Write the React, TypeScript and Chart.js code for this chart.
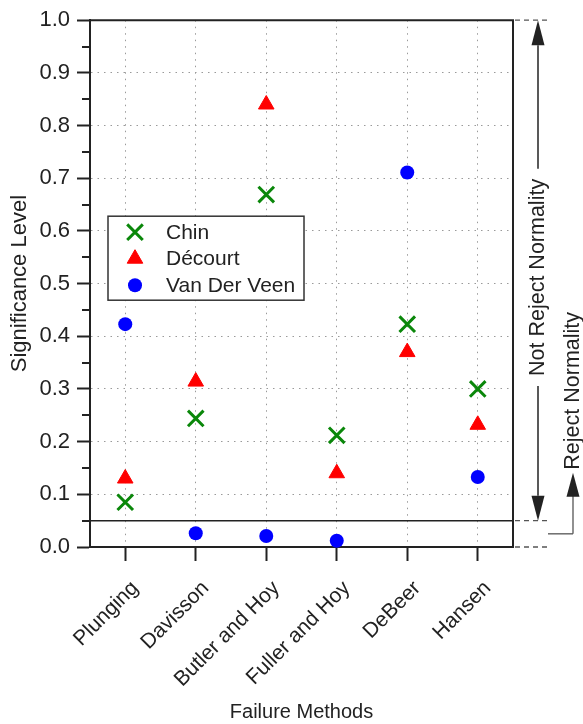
import React, { useEffect, useRef } from 'react';
import { Chart, registerables } from 'chart.js';

Chart.register(...registerables);

// ---- data ----
const categories = ['Plunging', 'Davisson', 'Butler and Hoy', 'Fuller and Hoy', 'DeBeer', 'Hansen'];
const seriesNames = ['Chin', 'Décourt', 'Van Der Veen'];
const chinValues = [0.085, 0.244, 0.669, 0.212, 0.423, 0.3];
const decourtValues = [0.13, 0.314, 0.84, 0.14, 0.37, 0.232];
const vanDerVeenValues = [0.423, 0.026, 0.021, 0.012, 0.711, 0.133];
const yMin = 0;
const yMax = 1;
const yStep = 0.1;
const threshold = 0.05;
const xTitle = 'Failure Methods';
const yTitle = 'Significance Level';
const upperNote = 'Not Reject Normality';
const lowerNote = 'Reject Normality';

const FONT = '"Liberation Sans", Arial, Helvetica, sans-serif';
const INK = '#222222';
const GREEN = '#0a870a';
const RED = '#ff0000';
const BLUE = '#0000ff';

function seg(ctx: CanvasRenderingContext2D, x1: number, y1: number, x2: number, y2: number) {
  ctx.beginPath();
  ctx.moveTo(x1, y1);
  ctx.lineTo(x2, y2);
  ctx.stroke();
}

function arrowHead(ctx: CanvasRenderingContext2D, x: number, tipY: number, dir: number, len: number, half: number) {
  // dir = -1 pointing up, +1 pointing down
  ctx.beginPath();
  ctx.moveTo(x, tipY);
  ctx.lineTo(x - half, tipY - dir * len);
  ctx.lineTo(x + half, tipY - dir * len);
  ctx.closePath();
  ctx.fill();
}

function marker(ctx: CanvasRenderingContext2D, kind: string, x: number, y: number, color: string) {
  ctx.save();
  ctx.fillStyle = color;
  ctx.strokeStyle = color;
  if (kind === 'crossRot') {
    const r = 11 * Math.SQRT1_2;
    ctx.lineWidth = 3;
    seg(ctx, x - r, y - r, x + r, y + r);
    seg(ctx, x - r, y + r, x + r, y - r);
  } else if (kind === 'triangle') {
    const r = 9;
    ctx.beginPath();
    for (let i = 0; i < 3; i++) {
      const a = (i * 2 * Math.PI) / 3;
      const px = x + Math.sin(a) * r;
      const py = y - Math.cos(a) * r;
      if (i === 0) ctx.moveTo(px, py);
      else ctx.lineTo(px, py);
    }
    ctx.closePath();
    ctx.fill();
    ctx.lineWidth = 1;
    ctx.stroke();
  } else {
    ctx.beginPath();
    ctx.arc(x, y, 7, 0, Math.PI * 2);
    ctx.fill();
  }
  ctx.restore();
}

const decorPlugin = {
  id: 'decor',
  afterDraw(chart: any) {
    const ctx: CanvasRenderingContext2D = chart.ctx;
    const a = chart.chartArea;
    const y = chart.scales.y;
    const yTop = y.getPixelForValue(yMax);
    const yTh = y.getPixelForValue(threshold);
    const y0 = y.getPixelForValue(yMin);
    ctx.save();
    ctx.strokeStyle = INK;
    ctx.fillStyle = INK;

    // minor ticks
    ctx.lineWidth = 2;
    for (let v = yMin + yStep / 2; v < yMax; v += yStep) {
      const py = Math.round(y.getPixelForValue(v));
      seg(ctx, a.left - 8, py, a.left, py);
    }
    // frame (top + right)
    ctx.lineWidth = 2;
    seg(ctx, a.left - 1, a.top, a.right + 1, a.top);
    seg(ctx, a.right, a.top, a.right, a.bottom);

    // threshold line
    ctx.lineWidth = 1.5;
    seg(ctx, a.left - 5, yTh, a.right, yTh);

    // dashed extensions on the right
    ctx.save();
    ctx.strokeStyle = '#555';
    ctx.lineWidth = 1.3;
    ctx.setLineDash([5, 4]);
    [yTop, yTh, y0].forEach((py) => seg(ctx, a.right + 2, py, a.right + 34, py));
    ctx.restore();

    ctx.font = `21.5px ${FONT}`;
    ctx.textAlign = 'center';
    ctx.textBaseline = 'middle';

    // main double arrow with text
    const ax = a.right + 25;
    const headLen = 25;
    const half = 6.5;
    arrowHead(ctx, ax, yTop, -1, headLen, half);
    arrowHead(ctx, ax, yTh, 1, headLen, half);
    const w1 = ctx.measureText(upperNote).width;
    const c1 = (yTop + yTh) / 2 + 7;
    ctx.lineWidth = 1.5;
    seg(ctx, ax, yTop + headLen, ax, c1 - w1 / 2 - 10);
    seg(ctx, ax, c1 + w1 / 2 + 10, ax, yTh - headLen);
    ctx.save();
    ctx.translate(ax, c1);
    ctx.rotate(-Math.PI / 2);
    ctx.fillText(upperNote, 0, 0);
    ctx.restore();

    // reject bracket
    const bx = a.right + 60;
    const by = (yTh + y0) / 2;
    const tip = yTh - 48;
    ctx.save();
    ctx.strokeStyle = '#555';
    ctx.lineWidth = 1.3;
    seg(ctx, a.right + 35, by, bx, by);
    seg(ctx, bx, by, bx, tip + 20);
    ctx.restore();
    arrowHead(ctx, bx, tip, -1, 24, 6.5);
    const w2 = ctx.measureText(lowerNote).width;
    ctx.save();
    ctx.translate(bx, tip - 3 - w2 / 2);
    ctx.rotate(-Math.PI / 2);
    ctx.fillText(lowerNote, 0, 0);
    ctx.restore();

    // legend
    ctx.font = `21px ${FONT}`;
    const lx = a.left + 18;
    const ly = a.top + 196;
    const lw = 196;
    const lh = 84;
    ctx.fillStyle = '#ffffff';
    ctx.fillRect(lx, ly, lw, lh);
    ctx.strokeStyle = '#333';
    ctx.lineWidth = 1.5;
    ctx.strokeRect(lx, ly, lw, lh);
    ctx.textAlign = 'left';
    ctx.textBaseline = 'middle';
    chart.data.datasets.forEach((ds: any, i: number) => {
      const ry = ly + 16 + i * 26.5;
      marker(ctx, ds.pointStyle, lx + 27, ry, ds.borderColor);
      ctx.fillStyle = INK;
      ctx.fillText(ds.label, lx + 58, ry + 1);
    });
    ctx.restore();
  },
};

export default function App() {
  const ref = useRef<HTMLCanvasElement>(null);
  useEffect(() => {
    document.body.style.margin = '0';
    const dotted = [1.5, 5];
    const chart = new Chart(ref.current as HTMLCanvasElement, {
      type: 'line',
      data: {
        labels: categories,
        datasets: [
          {
            label: seriesNames[0],
            data: chinValues,
            showLine: false,
            pointStyle: 'crossRot',
            pointRadius: 11,
            pointBorderWidth: 3,
            borderColor: GREEN,
            backgroundColor: GREEN,
            clip: false,
          },
          {
            label: seriesNames[1],
            data: decourtValues,
            showLine: false,
            pointStyle: 'triangle',
            pointRadius: 9,
            pointBorderWidth: 1,
            borderColor: RED,
            backgroundColor: RED,
            clip: false,
          },
          {
            label: seriesNames[2],
            data: vanDerVeenValues,
            showLine: false,
            pointStyle: 'circle',
            pointRadius: 7,
            pointBorderWidth: 0,
            borderColor: BLUE,
            backgroundColor: BLUE,
            clip: false,
          },
        ],
      },
      options: {
        responsive: false,
        animation: false,
        events: [],
        layout: { padding: { top: 18, right: 70, left: 0, bottom: 0 } },
        plugins: { legend: { display: false }, tooltip: { enabled: false } },
        scales: {
          x: {
            type: 'category',
            offset: true,
            grid: {
              offset: false,
              color: '#9a9a9a',
              lineWidth: 1,
              tickColor: INK,
              tickWidth: 2,
              tickLength: 14,
              tickBorderDash: [],
            },
            border: { display: true, color: INK, width: 2, dash: dotted },
            ticks: {
              font: { family: FONT, size: 21 },
              color: INK,
              maxRotation: 45,
              minRotation: 45,
              autoSkip: false,
              padding: 15,
              labelOffset: 10,
            },
            title: {
              display: true,
              text: xTitle,
              font: { family: FONT, size: 20 },
              color: INK,
              padding: { top: 0, bottom: 0 },
            },
            afterFit: (s: any) => {
              s.height = 177;
            },
          },
          y: {
            type: 'linear',
            min: yMin,
            max: yMax,
            grid: {
              color: '#9a9a9a',
              lineWidth: 1,
              tickColor: INK,
              tickWidth: 2,
              tickLength: 13,
              tickBorderDash: [],
            },
            border: { display: true, color: INK, width: 2, dash: dotted },
            ticks: {
              stepSize: yStep,
              font: { family: FONT, size: 22 },
              color: INK,
              padding: 7,
              callback: (v: any) => Number(v).toFixed(1),
            },
            title: {
              display: true,
              text: yTitle,
              font: { family: FONT, size: 22 },
              color: INK,
              padding: { top: 7, bottom: 0 },
            },
            afterFit: (s: any) => {
              s.width = 90;
            },
          },
        },
      },
      plugins: [decorPlugin],
    } as any);
    return () => chart.destroy();
  }, []);
  return (
    <div style={{ width: 583, height: 724 }}>
      <canvas ref={ref} width={583} height={724} style={{ display: 'block' }} />
    </div>
  );
}
